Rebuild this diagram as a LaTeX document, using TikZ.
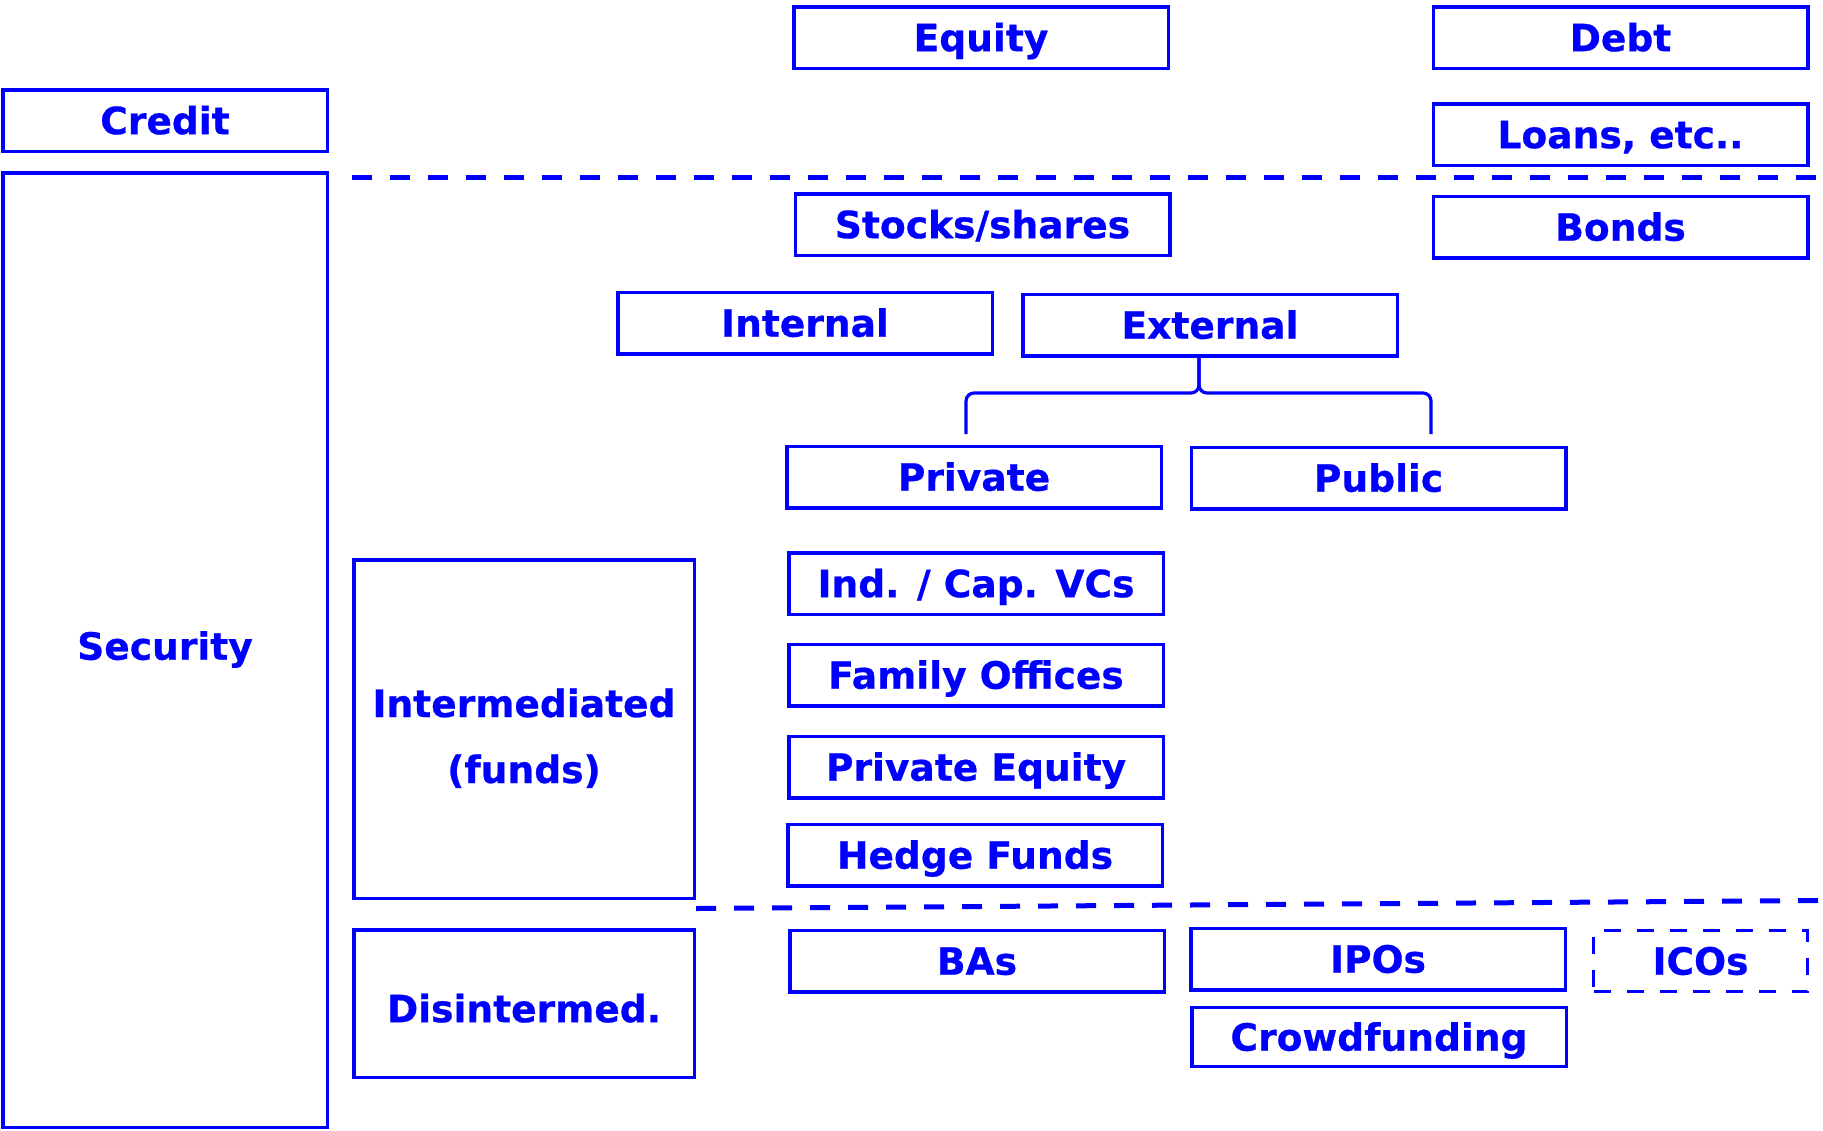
\documentclass[tikz,border=0pt]{standalone}
\usepackage{fontspec}
\setmainfont{DejaVu Sans}[BoldFeatures={FakeBold=0.6}]
\begin{document}
\definecolor{bl}{RGB}{0,0,255}
\begin{tikzpicture}[x=0.5pt,y=-0.5pt,
  box/.style={draw=bl, line width=1.75pt, text=bl,
    font=\bfseries\fontsize{18.8}{22}\selectfont,
    minimum width=187.25pt, minimum height=30.75pt, inner sep=0pt, align=center},
  oneline/.style={text height=13.7pt, text depth=0pt},
  dashbox/.style={box, line width=1.6pt, dash pattern=on 8.5pt off 8pt},
  divider/.style={draw=bl, line width=2.5pt, dash pattern=on 10pt off 9pt},
  link/.style={draw=bl, line width=1.6pt, rounded corners=4pt}]
\useasboundingbox (0,0) rectangle (1823,1130);

% top row: the two families of finance
\node[box,oneline] (equity) at (981,37.5) {Equity};
\node[box,oneline] (debt) at (1620.5,37.5) {Debt};
\node[box,oneline,minimum width=162.25pt] (credit) at (165,120.5) {Credit};
\node[box,oneline] (loans) at (1620.5,134.5) {Loans, etc..};

% securities column
\node[box,oneline,text depth=4pt,minimum width=162.25pt,minimum height=477.25pt] (security) at (165,650) {Security};
\node[box,oneline] (stocks) at (982.5,224.5) {Stocks/shares};
\node[box,oneline] (bonds) at (1620.5,227) {Bonds};
\node[box,oneline] (internal) at (805,323) {Internal};
\node[box,oneline] (external) at (1210,325) {External};
\node[box,oneline] (private) at (974,477) {Private};
\node[box,oneline] (public) at (1378.5,478) {Public};

% intermediated channels
\node[box,text height=13.7pt,text depth=25.7pt,minimum width=170.25pt,minimum height=169.25pt] (inter) at (524,729)
  {\begin{tabular}[t]{@{}c@{}}Intermediated\\[11pt](funds)\end{tabular}};
\node[box,oneline] (vcs) at (976,583.5) {Ind. / Cap. VCs};
\node[box,oneline] (family) at (976,675) {Family Offices};
\node[box,oneline] (pe) at (976,767) {Private Equity};
\node[box,oneline] (hedge) at (975,855) {Hedge Funds};

% disintermediated channels
\node[box,oneline,text height=18.7pt,minimum width=170.25pt,minimum height=73.75pt] (disint) at (524,1003.5) {Disintermed.};
\node[box,oneline] (bas) at (977,961) {BAs};
\node[box,oneline] (ipos) at (1378,959) {IPOs};
\node[dashbox,oneline,minimum width=107pt,minimum height=30.5pt] (icos) at (1700.5,961) {ICOs};
\node[box,oneline,minimum height=29.5pt] (crowd) at (1379,1037) {Crowdfunding};

% dashed separators
\coordinate (d1a) at (352,177);
\coordinate (d1b) at (1823,177);
\coordinate (d2a) at (696,908.5);
\coordinate (d2b) at (1823,900.5);
\draw[divider] (d1a) -- (d1b);
\draw[divider] (d2a) -- (d2b);

% brace splitting external funding into private and public
\coordinate (stem) at ([xshift=-5.5pt]external.south);
\coordinate (bar) at (0,393);
\coordinate (bL) at (966,434);
\coordinate (bR) at (1431,434);
\draw[link] (stem) -- (stem |- bar) -| (bL);
\draw[link] (stem) -- (stem |- bar) -| (bR);
\end{tikzpicture}
\end{document}
